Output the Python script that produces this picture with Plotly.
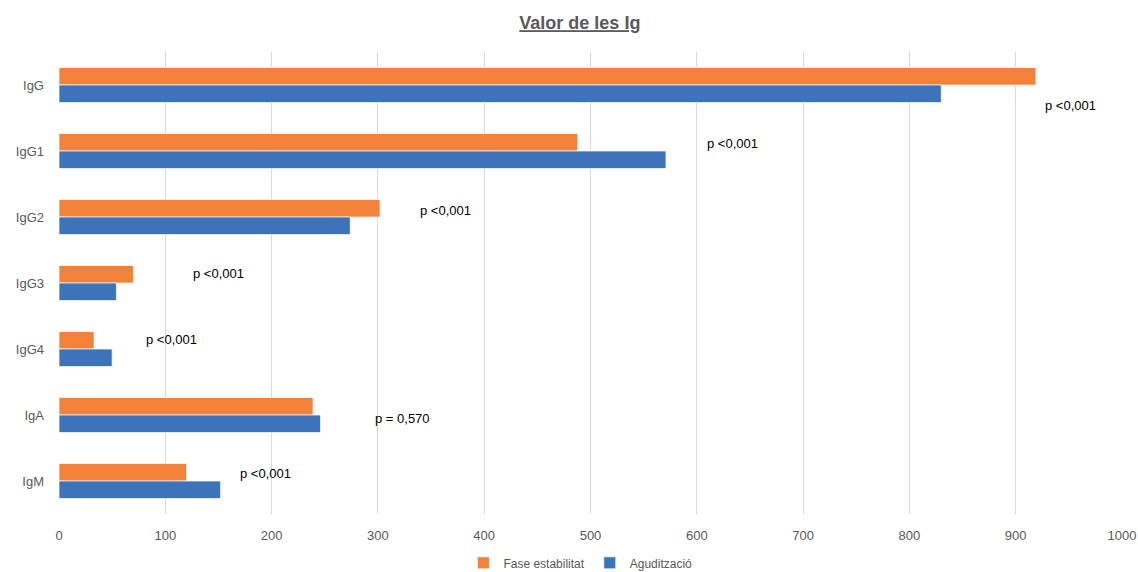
import plotly.graph_objects as go

categories = ["IgG", "IgG1", "IgG2", "IgG3", "IgG4", "IgA", "IgM"]
fase_estabilitat = [919, 488, 302, 70, 33, 239, 120]
aguditzacio = [830, 571, 274, 54, 50, 246, 152]
p_labels = ["p <0,001", "p <0,001", "p <0,001", "p <0,001", "p <0,001", "p = 0,570", "p <0,001"]
p_label_x = [926, 608, 338, 124, 80, 295, 168]
p_label_shift = [-20, 8, 7, 10, 10, -3, 8]

ORANGE = "#F2823A"
BLUE = "#3D73BB"
GREY = "#595959"
FONT = "Liberation Sans Narrow, Liberation Sans, Arial, sans-serif"

fig = go.Figure()
fig.add_trace(go.Bar(
    y=categories, x=fase_estabilitat, orientation="h", name="Fase estabilitat",
    marker=dict(color=ORANGE, line=dict(color="rgba(255,255,255,0.7)", width=1)),
))
fig.add_trace(go.Bar(
    y=categories, x=aguditzacio, orientation="h", name="Agudització",
    marker=dict(color=BLUE, line=dict(color="rgba(255,255,255,0.7)", width=1)),
))

for cat, txt, xv, dy in zip(categories, p_labels, p_label_x, p_label_shift):
    fig.add_annotation(
        x=xv, y=cat, xref="x", yref="y", text=txt, showarrow=False,
        xanchor="left", yanchor="middle", yshift=dy,
        font=dict(family="Liberation Sans, Arial, sans-serif", size=13, color="#000000"),
    )

fig.update_layout(
    width=1138, height=572,
    paper_bgcolor="white", plot_bgcolor="white",
    margin=dict(l=59, r=16, t=52, b=58),
    barmode="group", bargap=0.47, bargroupgap=0,
    title=dict(
        text="<u><b>Valor de les Ig</b></u>",
        x=0.49, xref="paper", xanchor="center", y=0.96, yanchor="middle",
        font=dict(family=FONT, size=18, color=GREY),
    ),
    xaxis=dict(
        range=[0, 1000], dtick=100, showgrid=True, gridcolor="#D9D9D9", gridwidth=1,
        zeroline=False, showline=False, ticks="", automargin=False,
        tickfont=dict(family=FONT, size=13, color=GREY), ticklabelstandoff=12,
    ),
    yaxis=dict(
        autorange="reversed", showgrid=False, zeroline=False, showline=False, ticks="",
        automargin=False,
        tickfont=dict(family=FONT, size=13, color=GREY), ticklabelstandoff=14,
    ),
    legend=dict(
        orientation="h", x=0.51, xanchor="center", xref="container",
        y=0.016, yref="container", yanchor="middle",
        font=dict(family=FONT, size=12, color=GREY), traceorder="normal",
        itemwidth=30,
    ),
    showlegend=True,
)

fig.write_html("out.html")
